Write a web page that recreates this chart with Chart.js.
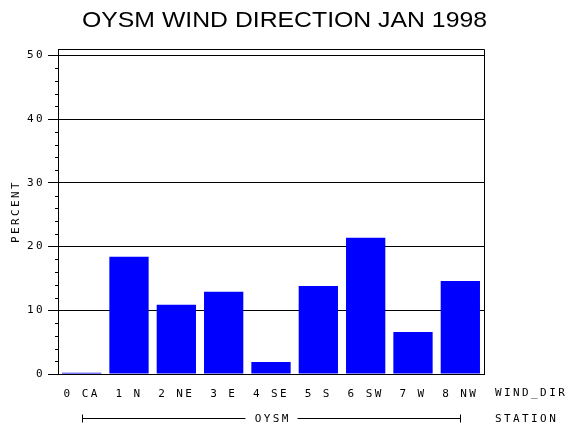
<!DOCTYPE html>
<html><head><meta charset="utf-8">
<script src="https://cdn.jsdelivr.net/npm/chart.js@4.4.1/dist/chart.umd.min.js"></script>
<style>html,body{margin:0;padding:0;background:#fff}#wrap{width:570px;height:430px}</style>
</head><body><div id="wrap"><canvas id="c" width="570" height="430"></canvas></div>
<script>
const codes = ["0","1","2","3","4","5","6","7","8"];
const directions = ["CA","N","NE","E","SE","S","SW","W","NW"];
const percent = [0.2, 18.4, 10.85, 12.9, 1.9, 13.8, 21.4, 6.6, 14.6];
const yTicks = [0,10,20,30,40,50];
const minorTicks = [2,4,6,8,12,14,16,18,22,24,26,28,32,34,36,38,42,44,46,48];
const titleText = "OYSM WIND DIRECTION JAN 1998";
const xAxisName = "WIND_DIR";
const groupName = "OYSM";
const groupAxisName = "STATION";
const yAxisName = "PERCENT";

const labels = codes.map((c,i)=>c+" "+directions[i]);
const MONO = "'DejaVu Sans Mono', monospace";

const extras = {
  id:'extras',
  beforeDraw(chart){ chart.ctx.letterSpacing = '2.4px'; },
  afterDraw(chart){
    const ctx = chart.ctx, a = chart.chartArea, xs = chart.scales.x, ys = chart.scales.y;
    ctx.save();
    ctx.strokeStyle = '#000'; ctx.lineWidth = 1;
    ctx.beginPath();
    ctx.moveTo(Math.round(a.left)+0.5, Math.round(a.top)+0.5);
    ctx.lineTo(Math.round(a.right)+0.5, Math.round(a.top)+0.5);
    ctx.lineTo(Math.round(a.right)+0.5, Math.round(a.bottom)+0.5);
    ctx.stroke();
    ctx.beginPath();
    minorTicks.forEach(v=>{
      const y = Math.round(ys.getPixelForValue(v))+0.5;
      ctx.moveTo(a.left-3, y); ctx.lineTo(a.left, y);
    });
    ctx.stroke();
    ctx.fillStyle = '#000';
    ctx.font = "11px " + MONO;
    ctx.letterSpacing = '2.4px';
    ctx.textAlign = 'left'; ctx.textBaseline = 'middle';
    ctx.fillText(xAxisName, 495, 393);
    ctx.fillText(groupAxisName, 495, 419);
    const x0 = Math.round(xs.getPixelForValue(0))+0.5;
    const x1 = Math.round(xs.getPixelForValue(codes.length-1))+0.5;
    const yb = 418.5;
    ctx.textAlign = 'center';
    const mid = (x0+x1)/2;
    const tw = ctx.measureText(groupName).width;
    ctx.fillText(groupName, mid+1.2, 419);
    ctx.beginPath();
    ctx.moveTo(x0, yb-4); ctx.lineTo(x0, yb+4);
    ctx.moveTo(x1, yb-4); ctx.lineTo(x1, yb+4);
    ctx.moveTo(x0, yb); ctx.lineTo(mid - tw/2 - 8, yb);
    ctx.moveTo(mid + tw/2 + 8, yb); ctx.lineTo(x1, yb);
    ctx.stroke();
    ctx.letterSpacing = '0px';
    ctx.font = "22px 'Liberation Sans', sans-serif";
    const w = ctx.measureText(titleText).width;
    const target = 405;
    ctx.translate(284.5, 21);
    ctx.scale(target/w, 1);
    ctx.textAlign = 'center'; ctx.textBaseline = 'middle';
    ctx.fillText(titleText, 0, 0);
    ctx.restore();
  }
};

new Chart(document.getElementById('c'), {
  type:'bar',
  data:{ labels, datasets:[{ data: percent, backgroundColor:'#0000ff', borderWidth:0,
    barPercentage:0.83, categoryPercentage:1 }]},
  options:{
    responsive:false, animation:false,
    layout:{ padding:{ top:49, right:86, left:0, bottom:0 } },
    plugins:{ legend:{display:false}, tooltip:{enabled:false}, title:{display:false} },
    scales:{
      x:{
        grid:{ display:false },
        border:{ display:true, color:'#000', width:1 },
        ticks:{ color:'#000', font:{ family:MONO, size:11 }, padding:6, maxRotation:0, autoSkip:false },
        afterFit(s){ s.height = 56; }
      },
      y:{
        min:0, max:51,
        afterBuildTicks(s){ s.ticks = yTicks.map(v=>({value:v})); },
        grid:{ color:'#000', lineWidth:1, tickLength:10, drawTicks:true, tickColor:'#000' },
        border:{ display:true, color:'#000', width:1 },
        ticks:{ color:'#000', font:{ family:MONO, size:11 }, padding:3 },
        title:{ display:true, text:yAxisName, color:'#000', font:{ family:MONO, size:11 }, padding:{top:10,bottom:0} },
        afterFit(s){ s.width = 58; }
      }
    }
  },
  plugins:[extras]
});
</script></body></html>
